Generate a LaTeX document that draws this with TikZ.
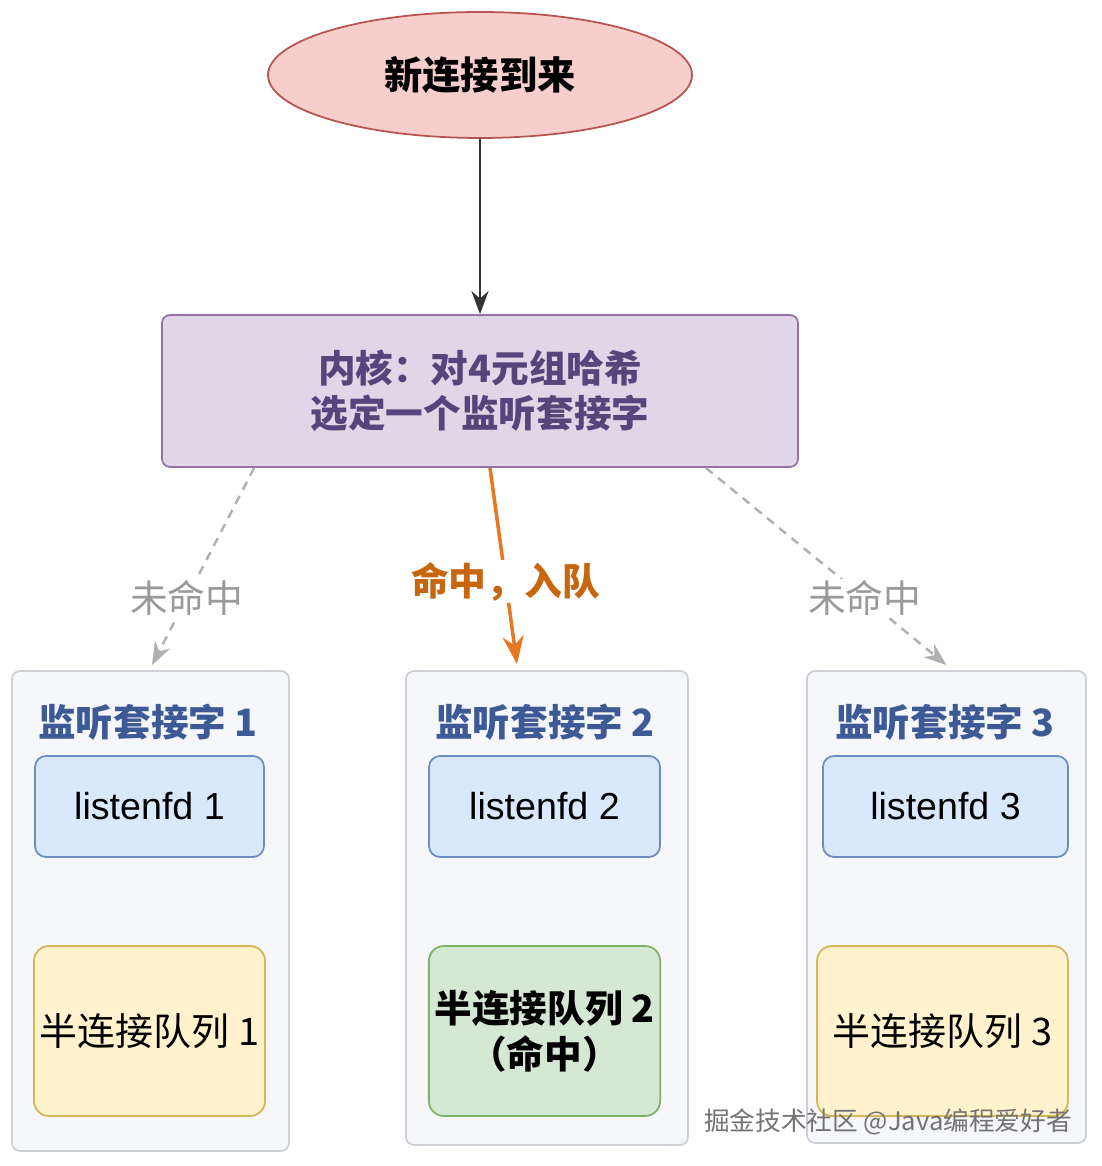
\documentclass[tikz,border=0pt]{standalone}
\usepackage{fontspec}
\setmainfont{Noto Sans CJK SC}
\newfontfamily\latinfont{Liberation Sans}
\usepackage{tikz}
\usetikzlibrary{positioning,calc,shapes.geometric,arrows.meta}

\definecolor{redfill}{HTML}{F8CECC}
\definecolor{redline}{HTML}{B85450}
\definecolor{purplefill}{HTML}{E1D5E7}
\definecolor{purpleline}{HTML}{9673A6}
\definecolor{purpletext}{HTML}{56457A}
\definecolor{bluefill}{HTML}{DAE8FC}
\definecolor{blueline}{HTML}{6C8EBF}
\definecolor{bluetext}{HTML}{3D5A96}
\definecolor{greenfill}{HTML}{D5E8D4}
\definecolor{greenline}{HTML}{82B366}
\definecolor{yellowfill}{HTML}{FFF2CC}
\definecolor{yellowline}{HTML}{D6B656}
\definecolor{groupfill}{HTML}{F5F7FA}
\definecolor{groupline}{HTML}{CCD0D5}
\definecolor{hitorange}{HTML}{E87722}
\definecolor{hittext}{HTML}{C8660F}
\definecolor{missgray}{HTML}{B0B0B0}
\definecolor{misstext}{HTML}{9A9A9A}

\begin{document}
\begin{tikzpicture}[
	group/.style={draw=groupline, fill=groupfill, line width=1pt, rounded corners=0.16cm},
	fdbox/.style={draw=blueline, fill=bluefill, line width=1pt, rounded corners=0.22cm,
		minimum height=2.02cm, font=\latinfont\fontsize{21.4}{25}\selectfont},
	queuebox/.style={line width=1pt, rounded corners=0.3cm, minimum height=3.4cm,
		align=center, font=\fontsize{21.6}{25.5}\selectfont},
	grouptitle/.style={text=bluetext, font=\bfseries\fontsize{21.4}{25}\selectfont},
	missline/.style={draw=missgray, dash pattern=on 5pt off 4pt, line width=1.4pt, -{Stealth[length=0.46cm,width=0.34cm]}},
	misslabel/.style={fill=white, text=misstext, inner sep=1pt, font=\fontsize{21.5}{25}\selectfont}
	]
	\useasboundingbox (0,0) rectangle (22.02,23.32);
	
	% top and kernel
	\node[ellipse, draw=redline, fill=redfill, line width=1pt, minimum width=8.48cm, minimum height=2.52cm,
		font=\bfseries\fontsize{21.8}{25}\selectfont] (newconn) at (9.6,21.82) {新连接到来};
	\node[draw=purpleline, fill=purplefill, line width=1pt, rounded corners=0.16cm,
		minimum width=12.72cm, minimum height=3.04cm, align=center, text=purpletext,
		font=\bfseries\fontsize{21.4}{25.5}\selectfont] (kernel) at (9.6,15.5) {内核：对4元组哈希\\选定一个监听套接字};
	
	% three listening sockets
	\node[group, minimum width=5.54cm, minimum height=9.6cm] (sock1) at (3.01,5.1) {};
	\node[group, minimum width=5.64cm, minimum height=9.48cm] (sock2) at (10.94,5.16) {};
	\node[group, minimum width=5.58cm, minimum height=9.44cm] (sock3) at (18.93,5.18) {};
	
	\node[grouptitle] (title1) at (2.96,8.88) {监听套接字 1};
	\node[grouptitle] (title2) at (10.9,8.88) {监听套接字 2};
	\node[grouptitle] (title3) at (18.9,8.88) {监听套接字 3};
	
	\node[fdbox, minimum width=4.58cm] (fd1) at (2.99,7.19) {listenfd 1};
	\node[fdbox, minimum width=4.62cm] (fd2) at (10.89,7.19) {listenfd 2};
	\node[fdbox, minimum width=4.9cm] (fd3) at (18.91,7.19) {listenfd 3};
	
	\node[queuebox, draw=yellowline, fill=yellowfill, minimum width=4.58cm] (queue1) at (2.99,2.7) {半连接队列 1};
	\node[queuebox, draw=greenline, fill=greenfill, minimum width=4.62cm, font=\bfseries\fontsize{21.4}{26}\selectfont]
		(queue2) at (10.89,2.7) {半连接队列 2\\（命中）};
	\node[queuebox, draw=yellowline, fill=yellowfill, minimum width=5.02cm] (queue3) at (18.85,2.7) {半连接队列 3};
	
	% connectors
	\coordinate (end1) at ($(sock1.north)+(0.03,0.1)$);
	\coordinate (end2) at ($(sock2.north)+(-0.6,0.12)$);
	\coordinate (end3) at ($(sock3.north)+(0.0,0.1)$);
	
	\draw[draw=black!80, line width=1.5pt, -{Stealth[length=0.46cm,width=0.34cm]}] (newconn.south) -- (kernel.north);
	\draw[missline] ([xshift=1.86cm]kernel.south west) -- (end1) node[misslabel, pos=0.66] (miss1) {未命中};
	\draw[missline] ([xshift=-1.86cm]kernel.south east) -- (end3) node[misslabel, pos=0.66] (miss3) {未命中};
	\draw[draw=hitorange, line width=2pt, -{Stealth[length=0.56cm,width=0.42cm]}] ([xshift=0.2cm]kernel.south) -- (end2)
		node[fill=white, text=hittext, inner sep=1pt, pos=0.58, font=\bfseries\fontsize{21.5}{25}\selectfont] (hitlabel) {命中，入队};
	
	% watermark
	\node[text=black!55, font=\fontsize{14.6}{17}\selectfont] (mark) at (17.76,0.88) {掘金技术社区 @Java编程爱好者};
\end{tikzpicture}
\end{document}
